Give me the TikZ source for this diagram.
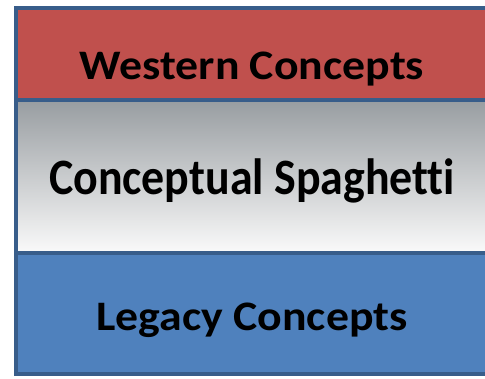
\documentclass[tikz,border=0pt]{standalone}
\usepackage{fontspec}
\setmainfont{Carlito}[RawFeature=-liga]
\usetikzlibrary{positioning}
\definecolor{westred}{RGB}{192,80,77}
\definecolor{legacyblue}{RGB}{79,129,189}
\definecolor{frameblue}{RGB}{56,93,138}
\definecolor{spagtop}{RGB}{152,157,161}
\definecolor{spagmid}{RGB}{210,214,216}
\definecolor{spagbot}{RGB}{250,250,250}
\tikzset {
  % one band of the stack
  band/.style = {
    draw = frameblue,
    line width = 3.5pt,
    rectangle,
    minimum width = 480pt,
    inner sep = 0,
    outer sep = 0
  },
  % text inside a band
  caption/.style = {
    anchor = base,
    inner sep = 0,
    text = black,
    font = \fontsize{42}{50}\selectfont\bfseries
  },
  big caption/.style = {
    caption,
    font = \fontsize{51}{60}\selectfont\bfseries
  }
}
\begin{document}
\begin{tikzpicture}[x=1pt,y=1pt]
    \useasboundingbox (0,0) rectangle (485,379);
    \fill[white] (0,0) rectangle (485,379);
    \clip (0,0) rectangle (485,379);

    \node[band, fill=westred, minimum height=92pt, anchor=north west] (western) at (16,371) {};
    \node[band, top color=spagtop, middle color=spagmid, bottom color=spagbot,
      minimum height=153pt] (spaghetti) [below=0pt of western] {};
    \node[band, fill=legacyblue, minimum height=121pt] (legacy) [below=0pt of spaghetti] {};

    % redraw the borders on top of the shading
    \draw[draw=frameblue, line width=3.5pt] (western.south west) -- (western.south east);
    \draw[draw=frameblue, line width=3.5pt] (spaghetti.south west) -- (spaghetti.south east);

    \node[caption] (western text) at ([xshift=-4pt, yshift=20.5pt]western.south)
      {\scalebox{1.09}[1]{Western Concepts}};
    \node[big caption] (spaghetti text) at ([xshift=-4pt, yshift=58.5pt]spaghetti.south)
      {\scalebox{0.9}[1]{Conceptual Spaghetti}};
    \node[caption] (legacy text) at ([xshift=-4pt, yshift=43.5pt]legacy.south)
      {\scalebox{1.09}[1]{Legacy Concepts}};
\end{tikzpicture}
\end{document}
